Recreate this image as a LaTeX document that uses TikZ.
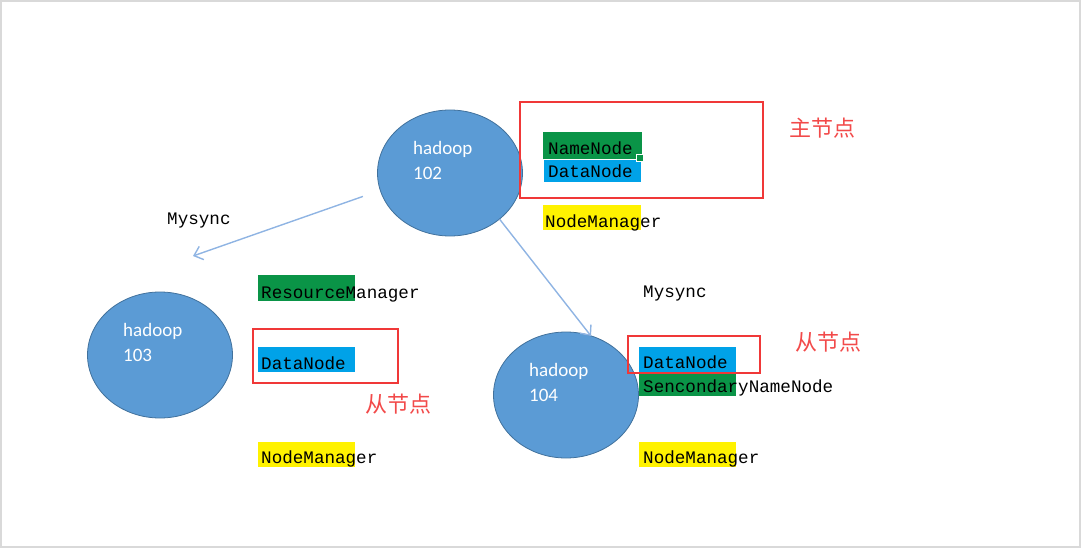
\documentclass[tikz,border=0pt]{standalone}
\usepackage{fontspec}
\setmonofont{Liberation Mono}
\newfontfamily\cjk{Noto Sans CJK SC}
\newfontfamily\calib{Carlito}
\usetikzlibrary{shapes.geometric,arrows.meta}
\definecolor{hostfill}{HTML}{5B9BD5}
\definecolor{hostline}{HTML}{41719C}
\definecolor{linkblue}{HTML}{8FB4E3}
\definecolor{hlgreen}{HTML}{0A9447}
\definecolor{hlblue}{HTML}{00A2E8}
\definecolor{hlyellow}{HTML}{FFF200}
\definecolor{boxred}{HTML}{F03838}
\definecolor{notered}{HTML}{F24A4A}
\begin{document}
\begin{tikzpicture}[x=1pt,y=-1pt,
    host/.style={ellipse,draw=hostline,line width=0.8pt,fill=hostfill,minimum width=145pt,minimum height=126pt,inner sep=0pt},
    hostname/.style={anchor=west,align=left,inner sep=0pt,text=white,font=\calib\fontsize{19}{25}\selectfont},
    proc/.style={anchor=base west,inner sep=0pt,font=\ttfamily\fontsize{17.6}{20}\selectfont},
    redbox/.style={draw=boxred,line width=2.2pt},
    note/.style={text=notered,inner sep=0pt,font=\cjk\fontsize{22}{24}\selectfont},
    link/.style={draw=linkblue,line width=1.4pt,-{Straight Barb[length=8pt,width=14pt]}}]
  \useasboundingbox (0,0) rectangle (1081,548);
  \draw[black!15,line width=2pt] (1,1) rectangle (1080,547);
  % Hosts
  \foreach \n/\x/\y in {102/450/173, 103/160/355, 104/566/395} {
    \node[host] (h\n) at (\x,\y) {};
    \node[hostname] (t\n) at ([shift={(-37,-13)}]h\n.center) {hadoop\\\n};
  }
  % Mysync arrows
  \coordinate (e103) at (193,256);
  \coordinate (e104) at (591,336);
  \draw[link,shorten <=18pt] (h102.194) -- (e103);
  \draw[link] (h102.-43) -- (e104);
  \node[proc] (sync103) at (167,225) {Mysync};
  \node[proc] (sync104) at (643,297) {Mysync};
  % Highlights
  \fill[hlgreen] (543,132) rectangle (642,159);
  \fill[hlblue] (544,160) rectangle (641,182);
  \filldraw[fill=hlgreen,draw=white,line width=0.6pt] (636,154) rectangle (643,161);
  \fill[hlyellow] (543,205) rectangle (641,230);
  \fill[hlgreen] (258,275) rectangle (355,301);
  \fill[hlblue] (258,347) rectangle (355,372);
  \fill[hlyellow] (258,442) rectangle (355,467);
  \fill[hlblue] (639,347) rectangle (736,373);
  \fill[hlgreen] (639,373) rectangle (736,396);
  \fill[hlyellow] (639,442) rectangle (736,467);
  % Processes
  \node[proc] (nn102) at (548,155) {NameNode};
  \node[proc] (dn102) at (548,178) {DataNode};
  \node[proc] (nm102) at (545,227) {NodeManager};
  \node[proc] (rm103) at (261,298) {ResourceManager};
  \node[proc] (dn103) at (261,369) {DataNode};
  \node[proc] (nm103) at (261,463) {NodeManager};
  \node[proc] (dn104) at (643,368) {DataNode};
  \node[proc] (snn104) at (643,392) {SencondaryNameNode};
  \node[proc] (nm104) at (643,463) {NodeManager};
  % Red frames and notes
  \draw[redbox] (520,102) rectangle (763,198);
  \draw[redbox] (253,329) rectangle (398,383);
  \draw[redbox] (628,336) rectangle (760,373);
  \node[note] (master) at (822,128) {主节点};
  \node[note] (slave103) at (398,404) {从节点};
  \node[note] (slave104) at (828,342) {从节点};
\end{tikzpicture}
\end{document}
